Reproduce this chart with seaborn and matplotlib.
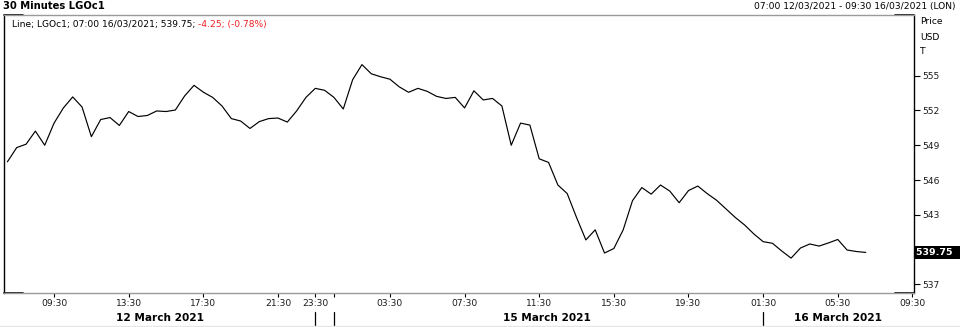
import matplotlib
matplotlib.use("Agg")
import matplotlib.pyplot as plt
import matplotlib.transforms as mtransforms
import seaborn as sns
import pandas as pd
import numpy as np

# ---- data: 30-minute closes, LGOc1, 07:00 12/03/2021 .. 07:00 16/03/2021 (bar index order)
prices = [547.57, 548.80, 549.09, 550.22, 549.00, 550.91, 552.22, 553.17, 552.30, 549.74,
          551.22, 551.39, 550.71, 551.91, 551.48, 551.57, 551.96, 551.91, 552.04, 553.26,
          554.17, 553.58, 553.13, 552.39, 551.30, 551.09, 550.45, 551.04, 551.30, 551.35,
          551.00, 551.96, 553.13, 553.91, 553.74, 553.13, 552.13, 554.65, 555.96, 555.17,
          554.91, 554.70, 554.04, 553.57, 553.91, 553.65, 553.22, 553.04, 553.13, 552.22,
          553.70, 552.91, 553.04, 552.39, 549.00, 550.91, 550.74, 547.83, 547.52, 545.57,
          544.83, 542.77, 540.83, 541.70, 539.70, 540.09, 541.70, 544.22, 545.35, 544.78,
          545.57, 545.04, 544.04, 545.09, 545.48, 544.83, 544.26, 543.52, 542.78, 542.13,
          541.35, 540.68, 540.54, 539.87, 539.26, 540.13, 540.48, 540.30, 540.57, 540.87,
          539.96, 539.83, 539.75]
bars = list(range(len(prices)))

# time-axis tick bars and labels
tick_bars = [5, 13, 21, 29, 33, 35, 41, 49, 57, 65, 73, 81, 89, 97]
tick_labels = ["09:30", "13:30", "17:30", "21:30", "23:30", "", "03:30", "07:30",
               "11:30", "15:30", "19:30", "01:30", "05:30", "09:30"]
date_labels = ["12 March 2021", "15 March 2021", "16 March 2021"]
date_centers = [16.4, 57.8, 89.0]
day_breaks = [33, 35, 81]

price_ticks = [537, 540, 543, 546, 549, 552, 555]
price_tick_labels = ["537", "", "543", "546", "549", "552", "555"]
last_price = 539.75
change_text = "-4.25; (-0.78%)"
legend_text = "Line; LGOc1; 07:00 16/03/2021; 539.75; "

df = pd.DataFrame({"bar": bars, "price": prices})

sns.set_theme(style="white")
plt.rcParams["font.family"] = ["DejaVu Sans"]

W, H = 960, 327
fig = plt.figure(figsize=(W / 100, H / 100), dpi=100)
fig.patch.set_facecolor("white")

L, R, T, B = 4, 914, 15, 293
ax = fig.add_axes([L / W, (H - B) / H, (R - L) / W, (B - T) / H])
ax.set_facecolor("white")

sns.lineplot(data=df, x="bar", y="price", ax=ax, color="black", linewidth=0.85)
for ln in ax.get_lines():
    ln.set_solid_joinstyle("round")
    ln.set_solid_capstyle("round")

# scales
px_per_bar = 9.33
x0_px = 7.4
ax.set_xlim((L - x0_px) / px_per_bar, (R - x0_px) / px_per_bar)
ax.set_ylim(536.25, 560.24)

ax.set_xlabel("")
ax.set_ylabel("")

# y axis on right
ax.yaxis.tick_right()
ax.set_yticks(price_ticks)
ax.set_yticklabels(price_tick_labels)
ax.tick_params(axis="y", which="both", direction="out", length=4, width=0.8,
               colors="black", labelsize=6.6, pad=2, right=True, left=False)

ax.set_xticks(tick_bars)
ax.set_xticklabels(tick_labels)
ax.tick_params(axis="x", direction="out", length=3, width=0.8, colors="black",
               labelsize=6.6, pad=1.5, bottom=True)
for lab in ax.get_xticklabels() + ax.get_yticklabels():
    lab.set_color("#1a1a1a")

ax.grid(False)
for side in ["left", "right"]:
    ax.spines[side].set_color("black")
    ax.spines[side].set_linewidth(1.0)
for side in ["top", "bottom"]:
    ax.spines[side].set_color("#9a9a9a")
    ax.spines[side].set_linewidth(1.0)

# black corner segments of the frame
cw = 19 / (R - L)
for yy in (0, 1):
    ax.plot([0, cw], [yy, yy], transform=ax.transAxes, color="black", lw=1.2, clip_on=False)
    ax.plot([1 - cw, 1], [yy, yy], transform=ax.transAxes, color="black", lw=1.2, clip_on=False)

# date labels and day separators below axis
blend = mtransforms.blended_transform_factory(ax.transData, ax.transAxes)
hpx = B - T
for lab, c in zip(date_labels, date_centers):
    ax.text(c, -(318 - B) / hpx, lab, transform=blend, ha="center", va="center",
            fontsize=7.6, fontweight="bold", color="black", clip_on=False)
for b in day_breaks:
    ax.plot([b, b], [-(312 - B) / hpx, -(327 - B) / hpx], transform=blend,
            color="black", lw=0.9, clip_on=False)

# last price box
yblend = mtransforms.blended_transform_factory(ax.transAxes, ax.transData)
ax.text(1.0 + 2 / (R - L), last_price, f"{last_price:.2f}  ", transform=yblend,
        ha="left", va="center", fontsize=6.8, fontweight="bold", color="white",
        bbox=dict(facecolor="black", edgecolor="none", boxstyle="square,pad=0.25"),
        clip_on=False, zorder=10)

# header texts
fig.text(3 / W, 1 - 6 / H, "30 Minutes LGOc1", ha="left", va="center",
         fontsize=7.2, fontweight="bold", color="black")
fig.text(955 / W, 1 - 6 / H, "07:00 12/03/2021 - 09:30 16/03/2021 (LON)", ha="right",
         va="center", fontsize=6.6, color="black")
for txt, yy in (("Price", 22), ("USD", 37), ("T", 52)):
    fig.text(920 / W, 1 - yy / H, txt, ha="left", va="center", fontsize=6.6, color="black")

t1 = fig.text(12 / W, 1 - 24 / H, legend_text, ha="left", va="center", fontsize=6.6,
              color="black")
ax.annotate(change_text, xy=(1, 0), xycoords=t1, ha="left", va="bottom",
            fontsize=6.6, color="#ee2222", annotation_clip=False)

# faint bottom rule
fig.add_artist(plt.Line2D([0, 1], [1 - 325.5 / H, 1 - 325.5 / H], color="#e6e6e6", lw=1))

fig.savefig("out.png", dpi=100, facecolor="white")
